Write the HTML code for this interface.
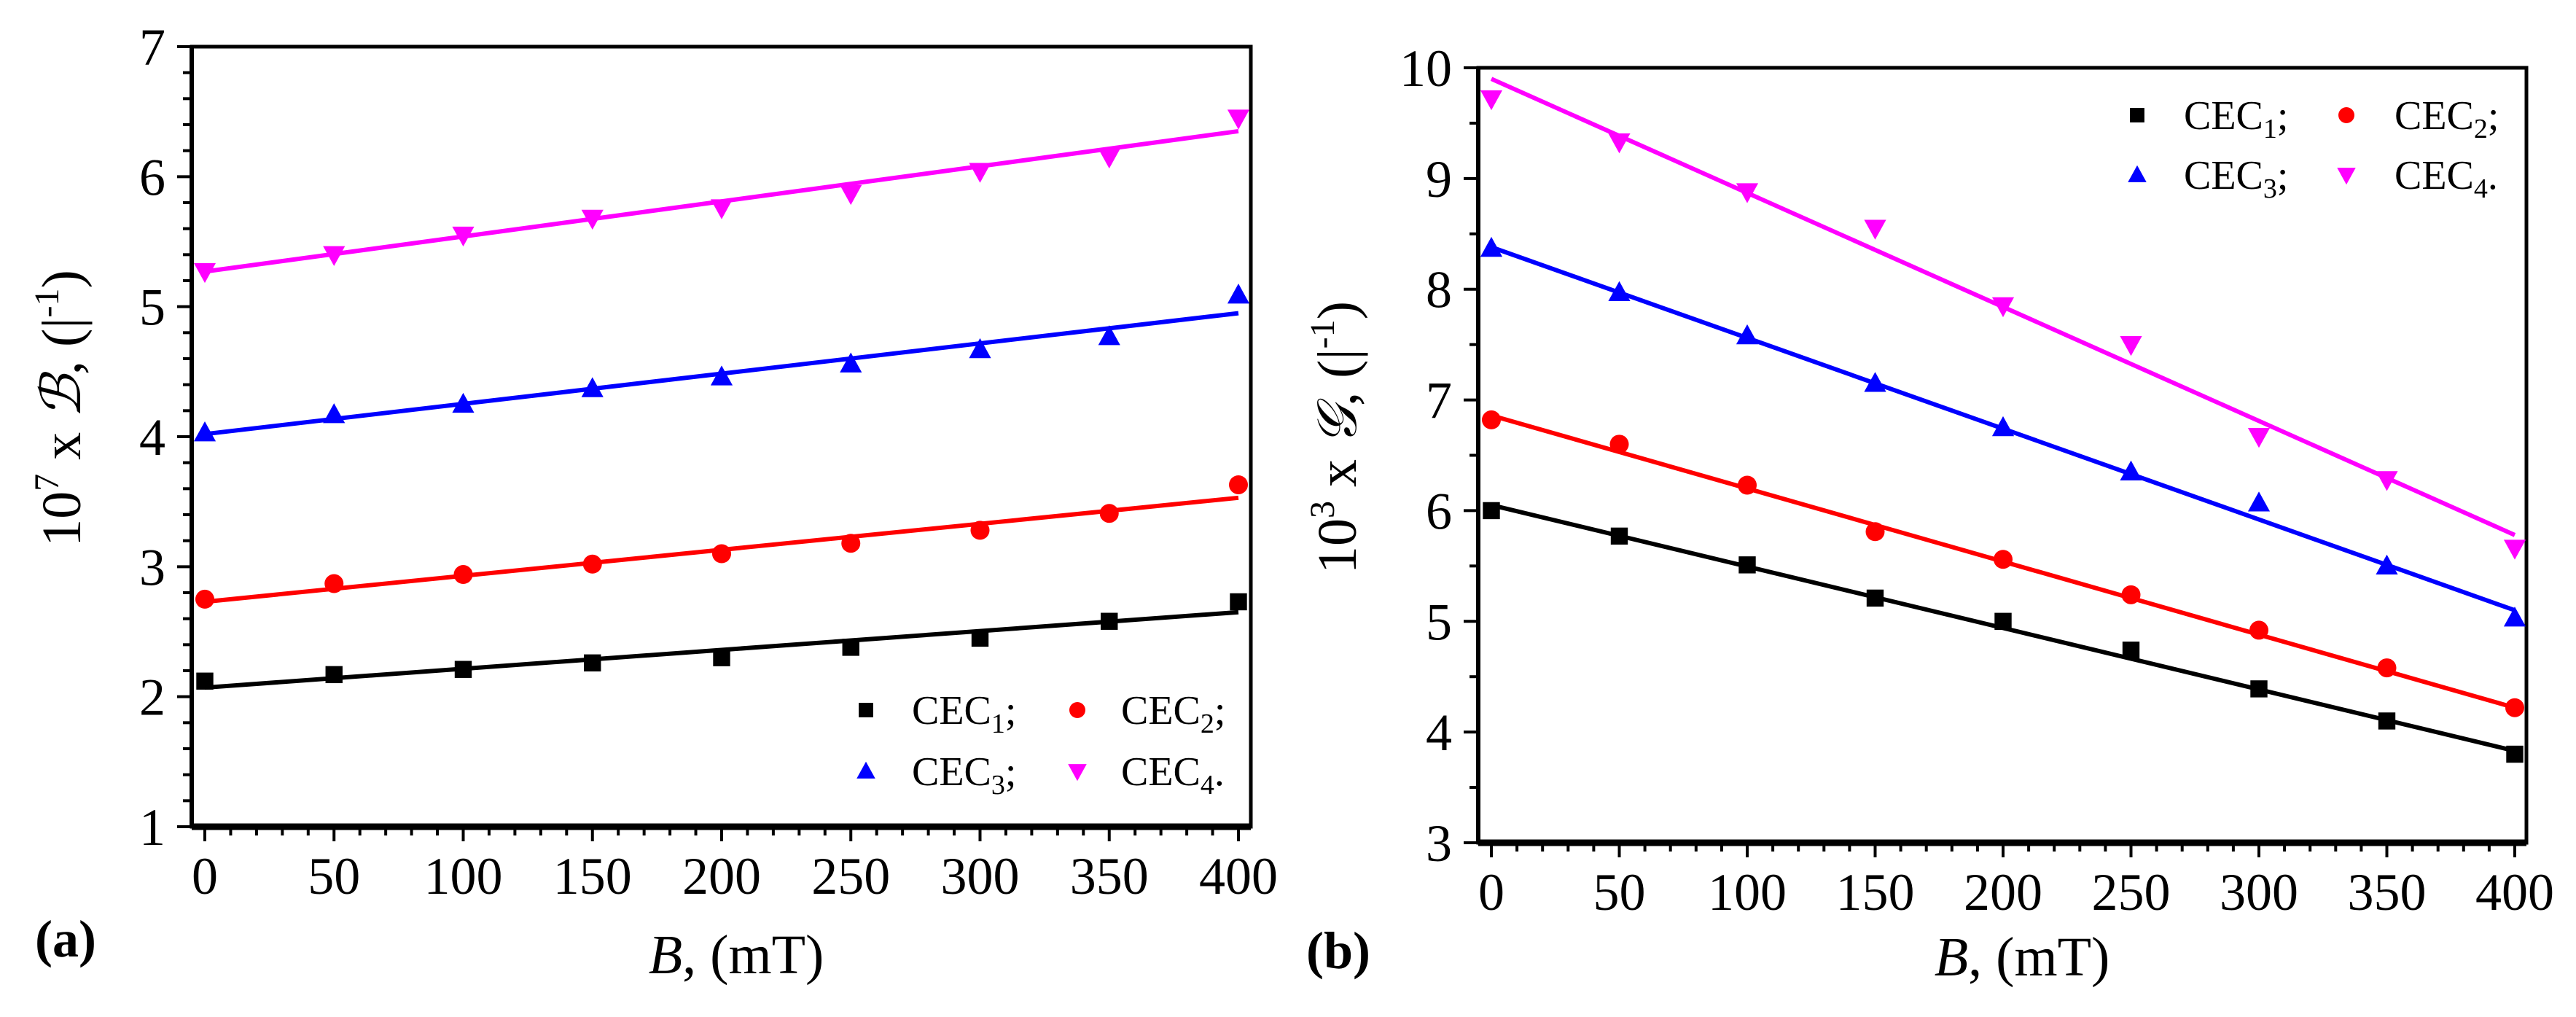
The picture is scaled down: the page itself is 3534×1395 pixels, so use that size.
<!DOCTYPE html>
<html><head><meta charset="utf-8"><style>
html,body{margin:0;padding:0;background:#fff;}
svg{display:block;font-family:"Liberation Serif",serif;}
text{font-family:"Liberation Serif",serif;}
</style></head><body>
<svg id="fig" width="3534" height="1395" viewBox="0 0 3534 1395" xmlns="http://www.w3.org/2000/svg"></svg>
<script>
const xCats = [0,50,100,150,200,250,300,350,400];
const xTicks = [0,50,100,150,200,250,300,350,400];
const seriesNames = ["CEC1","CEC2","CEC3","CEC4"];
const colors = ["#000000","#ff0000","#0000ff","#ff00ff"];
// Panel a
const aCEC1 = [2.12,2.17,2.21,2.26,2.30,2.38,2.45,2.58,2.73];
const aCEC2 = [2.75,2.87,2.94,3.02,3.10,3.18,3.28,3.41,3.63];
const aCEC3 = [4.03,4.17,4.25,4.37,4.46,4.56,4.67,4.77,5.09];
const aCEC4 = [5.27,5.40,5.55,5.68,5.76,5.87,6.04,6.15,6.45];
const aFitStart = [2.07,2.73,4.02,5.27];
const aFitEnd = [2.65,3.53,4.95,6.35];
const aYTicks = [1,2,3,4,5,6,7];
// Panel b
const bCEC1 = [6.00,5.77,5.51,5.21,5.00,4.74,4.39,4.10,3.80];
const bCEC2 = [6.82,6.60,6.23,5.81,5.56,5.24,4.92,4.58,4.22];
const bCEC3 = [8.37,7.97,7.58,7.15,6.75,6.35,6.07,5.50,5.03];
const bCEC4 = [9.72,9.33,8.88,8.55,7.85,7.50,6.67,6.28,5.66];
const bFitStart = [6.05,6.86,8.38,9.90];
const bFitEnd = [3.83,4.22,5.10,5.78];
const bYTicks = [3,4,5,6,7,8,9,10];

const NS="http://www.w3.org/2000/svg";
const svg=document.getElementById('fig');
const FF='Liberation Serif, serif';
function el(tag,attrs,parent){const e=document.createElementNS(NS,tag);for(const k in attrs)e.setAttribute(k,attrs[k]);if(tag==='text')e.setAttribute('font-family',FF);(parent||svg).appendChild(e);return e;}

function marker(g,i,x,y,s){
  let m;
  if(i===0) m=el('rect',{x:x-s*0.45,y:y-s*0.45,width:s*0.9,height:s*0.9,fill:colors[i]},g);
  else if(i===1) m=el('circle',{cx:x,cy:y,r:s*0.5,fill:colors[i]},g);
  else if(i===2) m=el('polygon',{points:`${x},${y-s*0.6} ${x-s*0.58},${y+s*0.45} ${x+s*0.58},${y+s*0.45}`,fill:colors[i]},g);
  else m=el('polygon',{points:`${x},${y+s*0.6} ${x-s*0.58},${y-s*0.45} ${x+s*0.58},${y-s*0.45}`,fill:colors[i]},g);
  return m;
}

function panel(cfg){
  const g=el('g',{});
  
  
  const X=v=>cfg.x0+(v-0)/(400-0)*(cfg.x400-cfg.x0);
  const Y=v=>cfg.yBot+(v-cfg.ymin)/(cfg.ymax-cfg.ymin)*(cfg.yTop-cfg.yBot);
  const fr=el('rect',{x:cfg.L,y:cfg.yTop,width:cfg.R-cfg.L,height:cfg.yBot-cfg.yTop,fill:'none',stroke:'#000','stroke-width':5},g);
  
  
  el('line',{x1:cfg.L,y1:cfg.yBot,x2:cfg.R,y2:cfg.yBot,stroke:'#000','stroke-width':9},g);
  el('line',{x1:cfg.L,y1:cfg.yTop,x2:cfg.L,y2:cfg.yBot,stroke:'#000','stroke-width':6},g);
  for(let v=0;v<=400;v+=10){
    const major=v%50===0;
    el('line',{x1:X(v),y1:cfg.yBot,x2:X(v),y2:cfg.yBot+(major?20:12),stroke:'#000','stroke-width':4},g);
  }
  xTicks.forEach(v=>{
    const t=el('text',{x:X(v),y:cfg.yBot+92,'font-size':72,'text-anchor':'middle'},g);
    t.textContent=v;
    
    
  });
  for(let v=cfg.ymin;v<=cfg.ymax+1e-9;v+=cfg.minor){
    const major=Math.abs(v-Math.round(v))<1e-6;
    el('line',{x1:cfg.L,y1:Y(v),x2:cfg.L-(major?20:12),y2:Y(v),stroke:'#000','stroke-width':4},g);
  }
  cfg.yTicks.forEach(v=>{
    const t=el('text',{x:cfg.L-36,y:Y(v)+25,'font-size':72,'text-anchor':'end'},g);
    t.textContent=v;
    
    
  });
  cfg.series.forEach((arr,i)=>{
    const ln=el('line',{x1:X(xCats[0]),y1:Y(cfg.fitS[i]),x2:X(xCats[xCats.length-1]),y2:Y(cfg.fitE[i]),stroke:colors[i],'stroke-width':6},g);
    
    
    arr.forEach((v,j)=>{
      const m=marker(g,i,X(xCats[j]),Y(v),26);
      
      
    });
  });
  const lg=el('g',{},g);
  
  
  const subs=['1;','2;','3;','4.'];
  seriesNames.forEach((n,i)=>{
    const c=i%2,r=Math.floor(i/2);
    const mx=cfg.lg.mx[c], tx=cfg.lg.tx[c], y=cfg.lg.y[r];
    const m=marker(lg,i,mx,y,22);
    
    
    const t=el('text',{x:tx,y:y+19,'font-size':56},lg);
    
    
    const a=document.createElementNS(NS,'tspan');a.textContent='CEC';t.appendChild(a);
    const b=document.createElementNS(NS,'tspan');b.setAttribute('font-size','38');b.setAttribute('dy','12');b.textContent=subs[i][0];t.appendChild(b);
    const c2=document.createElementNS(NS,'tspan');c2.setAttribute('dy','-12');c2.textContent=subs[i][1];t.appendChild(c2);
  });
  const xt=el('text',{x:cfg.xtX,y:cfg.xtY,'font-size':76,'text-anchor':'middle'},g);
  
  
  xt.innerHTML='<tspan font-style="italic">B</tspan>, (mT)';
  const yt=el('text',{x:0,y:0,'font-size':76,'text-anchor':'middle',transform:`translate(${cfg.ytX},${cfg.ytY}) rotate(-90)`},g);
  
  
  yt.innerHTML=`10<tspan font-size="48" dy="-30">${cfg.exp}</tspan><tspan dy="30"> x </tspan><tspan font-style="italic">${cfg.sym}</tspan>, (|<tspan font-size="48" dy="-30">-1</tspan><tspan dy="30">)</tspan>`;
  const pl=el('text',{x:cfg.plX,y:cfg.plY,'font-size':72,'font-weight':'bold'},g);
  
  
  pl.textContent=cfg.label;
}

panel({name:'panel-a',L:263,R:1716,x0:281,x400:1699,yTop:64,yBot:1134,ymin:1,ymax:7,minor:0.2,yTicks:aYTicks,
  series:[aCEC1,aCEC2,aCEC3,aCEC4],fitS:aFitStart,fitE:aFitEnd,
  lg:{mx:[1188,1478],tx:[1251,1538],y:[974,1058]},
  xtX:1010,xtY:1335,ytX:110,ytY:560,exp:'7',sym:'ℬ',label:'(a)',plX:48,plY:1312});
panel({name:'panel-b',L:2028,R:3466,x0:2046,x400:3450,yTop:93,yBot:1156,ymin:3,ymax:10,minor:0.5,yTicks:bYTicks,
  series:[bCEC1,bCEC2,bCEC3,bCEC4],fitS:bFitStart,fitE:bFitEnd,
  lg:{mx:[2932,3219],tx:[2996,3285],y:[158,240]},
  xtX:2774,xtY:1338,ytX:1860,ytY:600,exp:'3',sym:'𝒢',label:'(b)',plX:1792,plY:1328});
</script>
</body></html>
